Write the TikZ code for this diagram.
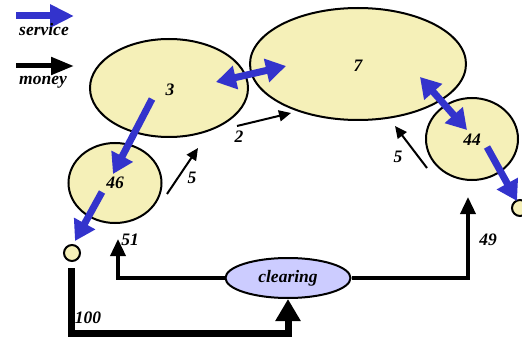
\documentclass[tikz,border=0pt]{standalone}
\usepackage{fontspec}
\setmainfont{Liberation Serif}
\usetikzlibrary{arrows.meta,shapes.geometric}
\definecolor{yellowfill}{RGB}{245,240,184}
\definecolor{svcblue}{RGB}{51,51,204}
\definecolor{clrfill}{RGB}{204,204,255}
\begin{document}
\begin{tikzpicture}[x=1pt,y=-1pt,
  agent/.style={ellipse,draw=black,line width=2pt,fill=yellowfill,inner sep=0pt},
  dot/.style={circle,draw=black,line width=2pt,fill=yellowfill,inner sep=0pt,minimum size=16pt},
  lbl/.style={font=\fontsize{17.5}{20}\selectfont\bfseries\itshape,inner sep=0pt},
  svc/.style={draw=svcblue,line width=7pt,-{Triangle[length=20pt,width=23pt]}},
  svcboth/.style={draw=svcblue,line width=7pt,{Triangle[length=20pt,width=23pt]}-{Triangle[length=20pt,width=23pt]}},
  pay/.style={draw=black,line width=2pt,-{Triangle[length=12pt,width=11pt]}},
  money/.style={draw=black,line width=3.5pt,-{Triangle[length=17pt,width=15pt]}},
  bigmoney/.style={draw=black,line width=7pt,-{Triangle[length=22pt,width=24pt]}}
]
\useasboundingbox (0,0) rectangle (522,342);

% legend
\coordinate (ls0) at (16,16); \coordinate (ls1) at (74,16);
\coordinate (lm0) at (16,66); \coordinate (lm1) at (74,66);
\draw[draw=svcblue,line width=7pt,-{Triangle[length=24pt,width=22pt]}] (ls0) -- (ls1);
\draw[draw=black,line width=5pt,-{Triangle[length=23pt,width=17pt]}] (lm0) -- (lm1);
\node[lbl] (tsvc) at (44,30) {service};
\node[lbl] (tmon) at (43,82) {money};

% agents
\node[agent,minimum width=158pt,minimum height=98pt] (a3) at (169,88) {};
\node[agent,minimum width=216pt,minimum height=112pt] (a7) at (358,64) {};
\node[agent,minimum width=93pt,minimum height=80pt] (a46) at (115,183) {};
\node[agent,minimum width=92pt,minimum height=82pt] (a44) at (472,139) {};
\node[lbl] (t3) at (170,90) {3};
\node[lbl] (t7) at (358,66) {7};
\node[lbl] (t46) at (115,183) {46};
\node[lbl] (t44) at (472,140) {44};

\node[dot] (d1) at (72,253) {};
\node[dot] (d2) at (520,208) {};

\node[ellipse,draw=black,line width=2pt,fill=clrfill,minimum width=125pt,minimum height=40pt,inner sep=0pt,font=\fontsize{17.5}{20}\selectfont\bfseries\itshape] (clr) at (288,278) {clearing};

% service arrows
\coordinate (s37a) at (216,82); \coordinate (s37b) at (286,66);
\draw[svcboth] (s37a) -- (s37b);
\coordinate (s3a) at (152,99); \coordinate (s3b) at (113,174);
\draw[svc] (s3a) -- (s3b);
\coordinate (s46a) at (102,192); \coordinate (s46b) at (75,241);
\draw[svc] (s46a) -- (s46b);
\coordinate (s7a) at (420,77); \coordinate (s7b) at (467,130);
\draw[svcboth] (s7a) -- (s7b);
\coordinate (s44a) at (487,147); \coordinate (s44b) at (517,201);
\draw[svc] (s44a) -- (s44b);

% thin payments
\coordinate (p2a) at (237,126); \coordinate (p2b) at (291,113);
\draw[pay] (p2a) -- (p2b);
\node[lbl] (l2) at (239,137) {2};
\coordinate (p5a) at (167,194); \coordinate (p5b) at (198,148);
\draw[pay] (p5a) -- (p5b);
\node[lbl] (l5a) at (192,178) {5};
\coordinate (p5c) at (427,168); \coordinate (p5d) at (395,126);
\draw[pay] (p5c) -- (p5d);
\node[lbl] (l5b) at (398,157) {5};

% clearing flows
\coordinate (m0) at (71,268);
\draw[bigmoney] (m0) -- (71,333) -| (clr.south);
\node[lbl] (l100) at (88,318) {100};
\coordinate (m51) at (118,239);
\draw[money] (clr.west) -| (m51);
\node[lbl] (l51) at (130,240) {51};
\coordinate (m49) at (468,197);
\draw[money] (clr.east) -| (m49);
\node[lbl] (l49) at (488,240) {49};
\end{tikzpicture}
\end{document}
